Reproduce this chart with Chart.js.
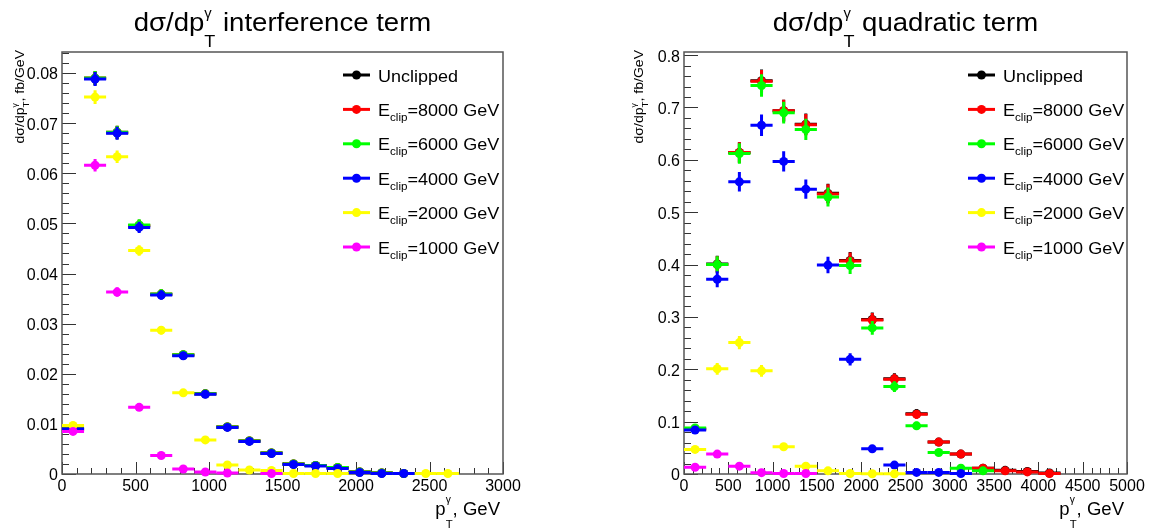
<!DOCTYPE html>
<html lang="en">
<head>
  <meta charset="UTF-8">
  <title>dσ/dpT interference and quadratic terms</title>
  <style>
    body {
      margin: 0;
      background: #fff;
      width: 1157px;
      height: 530px;
      overflow: hidden;
      display: flex;
    }
    canvas { display: block; }
  </style>
</head>
<body>
<canvas id="interference" width="578" height="530"></canvas>
<canvas id="quadratic" width="579" height="530"></canvas>

<script src="https://cdn.jsdelivr.net/npm/chart.js@4.4.0/dist/chart.umd.min.js"></script>
<script>
  // ---- interference term (bins of 150 GeV) ----
  const leftCenters = [75, 225, 375, 525, 675, 825, 975, 1125, 1275, 1425, 1575, 1725, 1875, 2025, 2175, 2325, 2475, 2625];
  const leftUnclipped = [0.0090, 0.0789, 0.0681, 0.0495, 0.0358, 0.0237, 0.0160, 0.0094, 0.0066, 0.0042, 0.0020, 0.0017, 0.0012, 0.0004, 0.0002, 0.0001, null, null];
  const leftClip8000 = [0.0090, 0.0790, 0.0682, 0.0496, 0.0359, 0.0238, 0.0160, 0.0094, 0.0066, 0.0042, 0.0020, 0.0017, 0.0013, 0.0004, 0.0002, 0.0001, null, null];
  const leftClip6000 = [0.0090, 0.0790, 0.0682, 0.0497, 0.0359, 0.0238, 0.0160, 0.0094, 0.0066, 0.0042, 0.0020, 0.0017, 0.0013, 0.0004, 0.0002, 0.0001, null, null];
  const leftClip4000 = [0.0090, 0.0788, 0.0680, 0.0492, 0.0357, 0.0236, 0.0159, 0.0093, 0.0065, 0.0041, 0.0019, 0.0016, 0.0011, 0.0003, 0.0001, 0.0001, null, null];
  const leftClip2000 = [0.0097, 0.0752, 0.0633, 0.0446, 0.0287, 0.0162, 0.0068, 0.0018, 0.0008, 0.0007, 0.0001, 0.0001, 0.0001, null, null, null, 0.0001, 0.0001];
  const leftClip1000 = [0.0085, 0.0616, 0.0363, 0.0133, 0.0037, 0.0010, 0.0004, 0.0002, null, 0.0001, null, null, null, null, null, null, null, null];

  // ---- quadratic term (bins of 250 GeV) ----
  const rightCenters = [125, 375, 625, 875, 1125, 1375, 1625, 1875, 2125, 2375, 2625, 2875, 3125, 3375, 3625, 3875, 4125];
  const rightUnclipped = [0.086, 0.401, 0.614, 0.751, 0.694, 0.668, 0.536, 0.408, 0.295, 0.182, 0.115, 0.061, 0.038, 0.011, 0.007, 0.005, 0.002];
  const rightClip8000 = [0.086, 0.400, 0.614, 0.750, 0.694, 0.667, 0.535, 0.407, 0.294, 0.181, 0.114, 0.061, 0.038, 0.011, 0.006, 0.004, 0.001];
  const rightClip6000 = [0.088, 0.400, 0.612, 0.742, 0.690, 0.658, 0.529, 0.398, 0.279, 0.167, 0.092, 0.041, 0.011, 0.006, null, null, null];
  const rightClip4000 = [0.084, 0.372, 0.558, 0.666, 0.597, 0.544, 0.399, 0.219, 0.048, 0.017, 0.003, 0.003, 0.001, null, null, null, null];
  const rightClip2000 = [0.047, 0.201, 0.251, 0.197, 0.052, 0.015, 0.006, 0.001, 0.0005, 0.0003, null, null, null, null, null, null, null];
  const rightClip1000 = [0.013, 0.038, 0.015, 0.0025, 0.001, 0.001, null, null, null, null, null, null, null, null, null, null, null];

  // ---- axes ----
  const leftXTicks = [0, 500, 1000, 1500, 2000, 2500, 3000];
  const leftYTicks = [0, 0.01, 0.02, 0.03, 0.04, 0.05, 0.06, 0.07, 0.08];
  const leftYLabels = ['0', '0.01', '0.02', '0.03', '0.04', '0.05', '0.06', '0.07', '0.08'];
  const rightXTicks = [0, 500, 1000, 1500, 2000, 2500, 3000, 3500, 4000, 4500, 5000];
  const rightYTicks = [0, 0.1, 0.2, 0.3, 0.4, 0.5, 0.6, 0.7, 0.8];
  const rightYLabels = ['0', '0.1', '0.2', '0.3', '0.4', '0.5', '0.6', '0.7', '0.8'];

  // ---- series ----
  const seriesColors = ['#000000', '#ff0000', '#00ff00', '#0000ff', '#ffff00', '#ff00ff'];
  const clipEnergies = [null, 8000, 6000, 4000, 2000, 1000];

  const FONT = '"Liberation Sans", Arial, Helvetica, sans-serif';
  Chart.defaults.font.family = FONT;
  Chart.defaults.color = '#000';

  // draws text pieces (with sub/superscripts) along one baseline
  function drawRich(ctx, parts, x, y, align, sx) {
    sx = sx || 1;
    const widths = parts.map(p => {
      ctx.font = p.size + 'px ' + FONT;
      if (p.stack) {
        const w1 = ctx.measureText(p.sup).width;
        ctx.font = p.subSize + 'px ' + FONT;
        return Math.max(w1, ctx.measureText(p.sub).width);
      }
      return ctx.measureText(p.t).width;
    });
    const total = widths.reduce((a, b) => a + b, 0) * sx;
    let cx = align === 'right' ? x - total : align === 'center' ? x - total / 2 : x;
    ctx.save();
    ctx.translate(cx, y);
    ctx.scale(sx, 1);
    ctx.textAlign = 'left';
    ctx.textBaseline = 'alphabetic';
    ctx.fillStyle = '#000';
    let px = 0;
    parts.forEach((p, i) => {
      ctx.font = p.size + 'px ' + FONT;
      if (p.stack) {
        ctx.fillText(p.sup, px, p.supDy);
        ctx.font = p.subSize + 'px ' + FONT;
        ctx.fillText(p.sub, px, p.subDy);
      } else {
        ctx.fillText(p.t, px, p.dy || 0);
      }
      px += widths[i];
    });
    ctx.restore();
  }

  function minorList(max, step) {
    const out = [];
    for (let i = 0; i * step <= max + step * 1e-6; i++) out.push(i * step);
    return out;
  }

  function isMajor(v, majors, step) {
    return majors.findIndex(m => Math.abs(m - v) < step * 0.01);
  }

  function makePanel(id, cfg) {
    const datasets = cfg.series.map((vals, s) => ({
      label: clipEnergies[s] ? 'E_clip=' + clipEnergies[s] + ' GeV' : 'Unclipped',
      data: cfg.centers.map((c, i) => vals[i] == null ? null : { x: c, y: vals[i] }).filter(p => p),
      backgroundColor: seriesColors[s],
      borderColor: seriesColors[s],
      pointRadius: 4.5,
      pointBorderWidth: 0,
      pointHoverRadius: 4.5,
      showLine: false,
      clip: false,
      order: cfg.series.length - s
    }));

    const plugin = {
      id: 'rootPanel_' + id,
      beforeDatasetsDraw(chart) {
        const { ctx, chartArea: a, scales: { x, y } } = chart;
        ctx.save();
        ctx.strokeStyle = '#333';
        ctx.lineWidth = 1;
        x.ticks.forEach(t => {
          const px = Math.round(x.getPixelForValue(t.value)) + 0.5;
          const len = isMajor(t.value, cfg.xTicks, cfg.xMinor) >= 0 ? 12 : 6;
          ctx.beginPath();
          ctx.moveTo(px, a.bottom);
          ctx.lineTo(px, a.bottom - len);
          ctx.stroke();
        });
        y.ticks.forEach(t => {
          const py = Math.round(y.getPixelForValue(t.value)) + 0.5;
          const len = isMajor(t.value, cfg.yTicks, cfg.yMinor) >= 0 ? 14 : 7;
          ctx.beginPath();
          ctx.moveTo(a.left, py);
          ctx.lineTo(a.left + len, py);
          ctx.stroke();
        });
        ctx.strokeStyle = '#555';
        ctx.lineWidth = 1.5;
        ctx.strokeRect(a.left, a.top, a.right - a.left, a.bottom - a.top);
        ctx.restore();
      },
      beforeDatasetDraw(chart, args) {
        const { ctx, scales: { x, y } } = chart;
        const ds = chart.data.datasets[args.index];
        ctx.save();
        ctx.strokeStyle = ds.borderColor;
        ctx.lineWidth = 3;
        args.meta.data.forEach((el, i) => {
          const raw = ds.data[i];
          const e = cfg.errScale * Math.sqrt(raw.y);
          ctx.beginPath();
          ctx.moveTo(x.getPixelForValue(raw.x - cfg.binHalf), el.y);
          ctx.lineTo(x.getPixelForValue(raw.x + cfg.binHalf), el.y);
          ctx.moveTo(el.x, y.getPixelForValue(raw.y + e));
          ctx.lineTo(el.x, y.getPixelForValue(Math.max(0, raw.y - e)));
          ctx.stroke();
        });
        ctx.restore();
      },
      afterDraw(chart) {
        const { ctx, chartArea: a } = chart;
        // title
        drawRich(ctx, [
          { t: 'dσ/dp', size: 26 },
          { stack: true, sup: 'γ', sub: 'T', size: 14, subSize: 17, supDy: -13, subDy: 16 },
          { t: ' ' + cfg.title, size: 26 }
        ], (a.left + a.right) / 2, 31, 'center', 1.06);

        // y axis title
        ctx.save();
        ctx.translate(cfg.yTitleX, a.top - 2);
        ctx.rotate(-Math.PI / 2);
        drawRich(ctx, [
          { t: 'dσ/dp', size: 13 },
          { stack: true, sup: 'γ', sub: 'T', size: 8, subSize: 9, supDy: -7, subDy: 5 },
          { t: ', fb/GeV', size: 13 }
        ], 0, 0, 'right', 1.08);
        ctx.restore();

        // x axis title
        drawRich(ctx, [
          { t: 'p', size: 18 },
          { stack: true, sup: 'γ', sub: 'T', size: 10, subSize: 11, supDy: -12, subDy: 13 },
          { t: ', GeV', size: 18 }
        ], a.right - 3, 515, 'right', 1.03);

        // legend
        ctx.save();
        chart.data.datasets.forEach((ds, s) => {
          const ly = 75 + s * 34.4;
          ctx.strokeStyle = ds.borderColor;
          ctx.fillStyle = ds.backgroundColor;
          ctx.lineWidth = 3;
          ctx.beginPath();
          ctx.moveTo(cfg.legendX, ly);
          ctx.lineTo(cfg.legendX + 27, ly);
          ctx.stroke();
          ctx.beginPath();
          ctx.arc(cfg.legendX + 13.5, ly, 4.5, 0, Math.PI * 2);
          ctx.fill();
          const parts = clipEnergies[s]
            ? [{ t: 'E', size: 17 }, { t: 'clip', size: 11, dy: 5 }, { t: '=' + clipEnergies[s] + ' GeV', size: 17 }]
            : [{ t: 'Unclipped', size: 17 }];
          drawRich(ctx, parts, cfg.legendX + 35, ly + 6.5, 'left', 1.06);
        });
        ctx.restore();
      }
    };

    return new Chart(document.getElementById(id), {
      type: 'scatter',
      data: { datasets },
      options: {
        responsive: false,
        animation: false,
        devicePixelRatio: 1,
        layout: { padding: { top: 52, right: cfg.padRight, left: 0, bottom: 0 } },
        plugins: { legend: { display: false }, tooltip: { enabled: false } },
        events: [],
        scales: {
          x: {
            type: 'linear',
            min: 0,
            max: cfg.xMax,
            grid: { display: false, drawTicks: false },
            border: { display: false },
            afterBuildTicks: s => { s.ticks = minorList(cfg.xMax, cfg.xMinor).map(v => ({ value: v })); },
            afterFit: s => { s.height = 56; },
            ticks: {
              autoSkip: false, maxRotation: 0, minRotation: 0, padding: 3,
              font: { size: 16 },
              callback: v => isMajor(v, cfg.xTicks, cfg.xMinor) >= 0 ? String(cfg.xTicks[isMajor(v, cfg.xTicks, cfg.xMinor)]) : ''
            }
          },
          y: {
            type: 'linear',
            min: 0,
            max: cfg.yMax,
            grid: { display: false, drawTicks: false },
            border: { display: false },
            afterBuildTicks: s => { s.ticks = minorList(cfg.yMax, cfg.yMinor).map(v => ({ value: v })); },
            afterFit: s => { s.width = cfg.plotLeft; },
            ticks: {
              autoSkip: false, padding: 4, labelOffset: 2,
              font: { size: 16 },
              callback: v => {
                const k = isMajor(v, cfg.yTicks, cfg.yMinor);
                return k >= 0 ? cfg.yLabels[k] : '';
              }
            }
          }
        }
      },
      plugins: [plugin]
    });
  }

  makePanel('interference', {
    title: 'interference term',
    centers: leftCenters,
    series: [leftUnclipped, leftClip8000, leftClip6000, leftClip4000, leftClip2000, leftClip1000],
    xMax: 3000, xTicks: leftXTicks, xMinor: 100,
    yMax: 0.0842, yTicks: leftYTicks, yLabels: leftYLabels, yMinor: 0.002,
    binHalf: 75, errScale: 0.005,
    plotLeft: 62, padRight: 75,
    yTitleX: 24, legendX: 343
  });

  makePanel('quadratic', {
    title: 'quadratic term',
    centers: rightCenters,
    series: [rightUnclipped, rightClip8000, rightClip6000, rightClip4000, rightClip2000, rightClip1000],
    xMax: 5000, xTicks: rightXTicks, xMinor: 100,
    yMax: 0.806, yTicks: rightYTicks, yLabels: rightYLabels, yMinor: 0.02,
    binHalf: 125, errScale: 0.025,
    plotLeft: 106, padRight: 30,
    yTitleX: 65, legendX: 390
  });
</script>
</body>
</html>
